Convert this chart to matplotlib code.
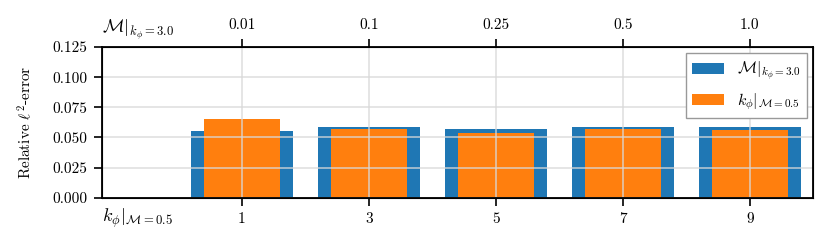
import numpy as np
import matplotlib
matplotlib.use("Agg")
import matplotlib.pyplot as plt

plt.rcParams['font.family'] = 'serif'
plt.rcParams['font.serif'] = ['cmr10', 'DejaVu Serif']
plt.rcParams['mathtext.fontset'] = 'cm'
plt.rcParams['axes.unicode_minus'] = False
plt.rcParams['font.size'] = 11

# data
mach_labels = ['0.01', '0.1', '0.25', '0.5', '1.0']
kphi_labels = ['1', '3', '5', '7', '9']
err_mach = [0.0555, 0.0583, 0.0572, 0.0585, 0.0585]
err_kphi = [0.0651, 0.0566, 0.0539, 0.0571, 0.0564]
yticks = [0, 0.025, 0.05, 0.075, 0.1, 0.125]

pos = np.arange(len(mach_labels))

fig, ax = plt.subplots(figsize=(8.3, 2.45), dpi=100)
fig.subplots_adjust(left=0.123, right=0.98, top=0.808, bottom=0.193)

ax.bar(pos, err_mach, width=0.8, color='#1f77b4', label=r'$\mathcal{M}|_{k_\phi=3.0}$')
ax.bar(pos, err_kphi, width=0.6, color='#ff7f0e', label=r'$k_\phi|_{\mathcal{M}=0.5}$')

ax.set_xlim(-1.1, 4.5)
ax.set_ylim(0, 0.125)
ax.set_yticks(yticks)
ax.set_yticklabels(['%.3f' % v for v in yticks])
ax.set_xticks(pos)
ax.set_xticklabels(kphi_labels)
ax.grid(True, color='#d8d8d8', alpha=0.8, linewidth=1.2)
ax.set_ylabel(r'Relative $\ell^2$-error', fontsize=11, labelpad=13)
ax.tick_params(length=5.5, width=1.2, pad=5)

for s in ax.spines.values():
    s.set_linewidth(1.3)

top = ax.twiny()
top.set_xlim(ax.get_xlim())
top.set_xticks(pos)
top.set_xticklabels(mach_labels)
top.tick_params(length=5.5, width=1.2, pad=5)

ax.text(0.0, 1.115, r'$\mathcal{M}|_{k_\phi=3.0}$', transform=ax.transAxes,
        ha='left', va='center', fontsize=13)
ax.text(0.0, -0.14, r'$k_\phi|_{\mathcal{M}=0.5}$', transform=ax.transAxes,
        ha='left', va='center', fontsize=13)

ax.legend(loc='upper right', fancybox=False, edgecolor='#999999', framealpha=1,
          handlelength=2.0, fontsize=11.5, borderaxespad=0.4)

fig.savefig('out.png', dpi=100)
